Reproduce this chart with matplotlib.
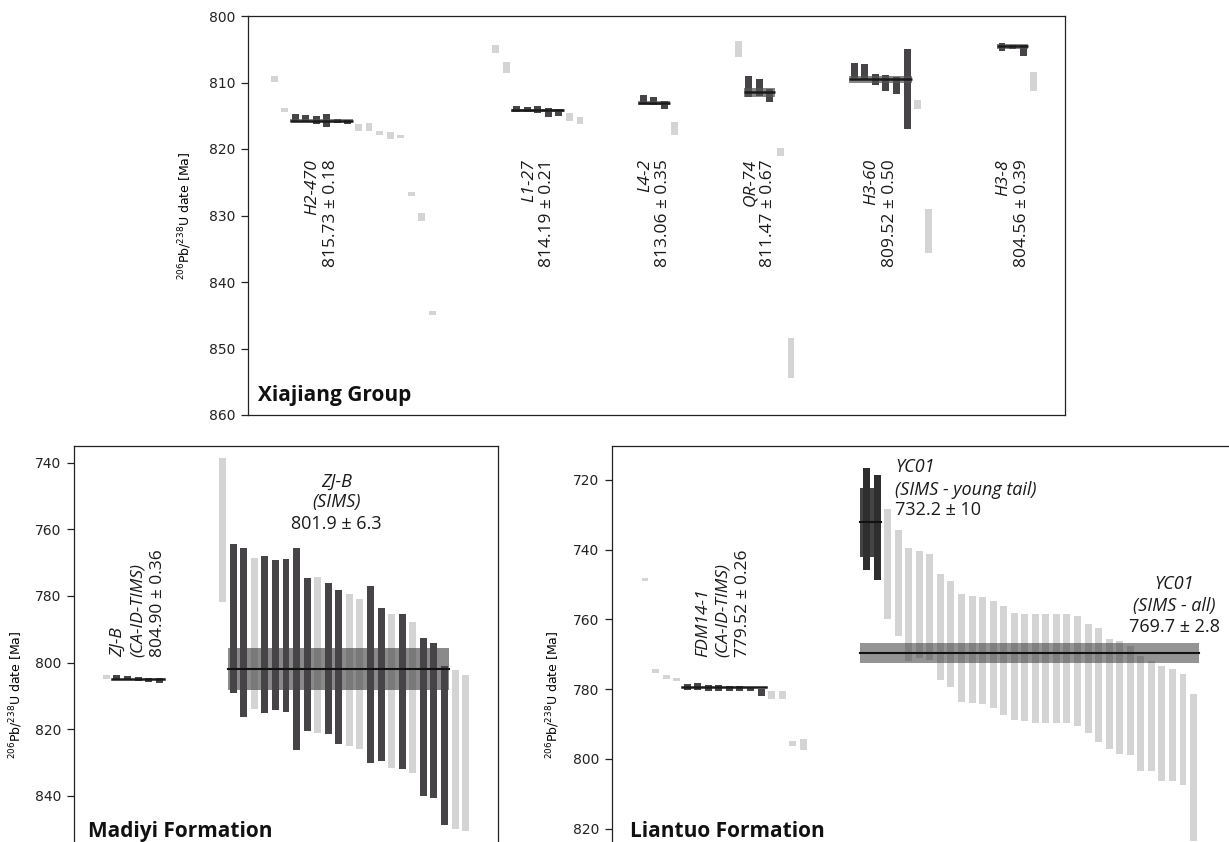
import matplotlib
matplotlib.use('Agg')
import matplotlib.pyplot as plt
from matplotlib.transforms import offset_copy

# ---------------- data ----------------
# Top panel: Xiajiang Group (CA-ID-TIMS single-grain dates, Ma)
top_names = ['H2-470', 'L1-27', 'L4-2', 'QR-74', 'H3-60', 'H3-8']
top_means = [815.73, 814.19, 813.06, 811.47, 809.52, 804.56]
top_errs = [0.18, 0.21, 0.35, 0.67, 0.50, 0.39]

h2_470_lo = [809.0, 813.9, 814.7, 814.9, 815.0, 814.7, 815.5, 815.6, 816.3, 816.1, 817.3, 817.5, 817.9, 826.5, 829.6, 844.4]
h2_470_hi = [810.0, 814.4, 815.8, 815.9, 816.2, 816.7, 816.1, 816.2, 817.3, 817.3, 817.9, 818.5, 818.3, 827.1, 830.8, 845.0]
h2_470_used = [0, 0, 1, 1, 1, 1, 1, 1, 0, 0, 0, 0, 0, 0, 0, 0]

l1_27_lo = [804.4, 806.9, 813.5, 813.7, 813.5, 813.8, 814.0, 814.6, 815.2]
l1_27_hi = [805.6, 808.6, 814.4, 814.4, 814.6, 815.2, 815.0, 815.8, 816.2]
l1_27_used = [0, 0, 1, 1, 1, 1, 1, 0, 0]

l4_2_lo = [811.9, 812.2, 812.8, 815.9]
l4_2_hi = [813.1, 813.4, 814.0, 817.9]
l4_2_used = [1, 1, 1, 0]

qr_74_lo = [803.8, 809.0, 809.5, 811.0, 819.8, 848.4]
qr_74_hi = [806.2, 812.2, 812.0, 812.9, 821.1, 854.4]
qr_74_used = [0, 1, 1, 1, 0, 0]

h3_60_lo = [807.1, 807.2, 808.7, 808.9, 809.2, 805.0, 812.6, 829.0]
h3_60_hi = [809.3, 809.6, 810.4, 811.3, 811.7, 817.0, 814.0, 835.6]
h3_60_used = [1, 1, 1, 1, 1, 1, 0, 0]

h3_8_lo = [804.0, 804.3, 804.3, 808.4]
h3_8_hi = [805.2, 805.0, 806.0, 811.3]
h3_8_used = [1, 1, 1, 0]

# Bottom-left: Madiyi Formation
zjb_tims_lo = [803.6, 803.8, 804.0, 804.3, 804.5, 804.5]
zjb_tims_hi = [804.9, 805.3, 805.1, 805.5, 805.9, 806.1]
zjb_tims_used = [0, 1, 1, 1, 1, 1]
zjb_tims_mean, zjb_tims_err = 804.90, 0.36

zjb_sims_lo = [738.5, 764.3, 765.5, 768.7, 768.0, 769.3, 768.9, 765.5, 774.6, 774.4, 776.1, 778.1,
               779.5, 780.9, 777.0, 783.7, 785.3, 785.4, 787.7, 792.5, 794.1, 801.1, 802.1, 803.8]
zjb_sims_hi = [781.8, 809.1, 816.3, 813.9, 815.2, 814.2, 815.0, 826.4, 820.7, 821.3, 821.5, 824.5,
               825.1, 826.1, 830.3, 829.7, 831.7, 831.9, 833.3, 840.1, 840.6, 848.8, 850.1, 850.5]
zjb_sims_used = [0, 1, 1, 0, 1, 1, 1, 1, 1, 0, 1, 1, 0, 0, 1, 1, 0, 1, 0, 1, 1, 1, 0, 0]
zjb_sims_mean, zjb_sims_err = 801.9, 6.3

# Bottom-right: Liantuo Formation
fdm_lo = [748.0, 774.2, 775.9, 776.7, 778.5, 778.2, 778.7, 778.8, 779.2, 779.2, 779.4, 779.9, 780.6, 780.6, 795.0, 794.4]
fdm_hi = [749.1, 775.4, 777.1, 777.7, 780.2, 780.2, 780.4, 780.6, 780.6, 780.6, 780.4, 782.1, 782.8, 782.8, 796.2, 797.5]
fdm_used = [0, 0, 0, 0, 1, 1, 1, 1, 1, 1, 1, 1, 0, 0, 0, 0]
fdm_mean, fdm_err = 779.52, 0.26

yc01_lo = [716.5, 718.6, 728.3, 734.4, 739.5, 740.5, 741.1, 747.0, 749.1, 752.8, 753.2, 753.6, 754.7, 756.1,
           758.2, 758.4, 758.5, 758.5, 758.5, 758.5, 759.0, 761.4, 762.5, 765.5, 766.2, 767.6, 770.6, 771.8,
           773.5, 774.2, 775.6, 781.4]
yc01_hi = [745.7, 748.8, 759.8, 764.9, 771.8, 771.0, 771.6, 777.3, 779.4, 783.7, 784.1, 784.4, 785.4, 787.3,
           788.8, 789.0, 789.6, 789.6, 789.6, 789.6, 790.6, 792.7, 795.2, 797.2, 798.6, 799.0, 803.4, 803.4,
           806.3, 806.3, 807.5, 823.5]
yc01_young_used = [1, 1] + [0] * 30
yc01_young_mean, yc01_young_err = 732.2, 10.0
yc01_all_mean, yc01_all_err = 769.7, 2.8

# ---------------- style / layout ----------------
W, H = 1229, 842
fig = plt.figure(figsize=(W / 100, H / 100), dpi=100)
DARK = '#474447'
DARK2 = '#2e2e2e'
GREY = '#d4d4d4'
ANN = ['Open Sans', 'DejaVu Sans']
BW = 0.66
YLAB = r'$^{206}$Pb/$^{238}$U date [Ma]'
FS = 12.5
FSB = 15


def px_axes(l, t, r, b):
    return fig.add_axes([l / W, 1 - b / H, (r - l) / W, (b - t) / H])


def style_axes(ax):
    ax.set_xticks([])
    for s in ax.spines.values():
        s.set_linewidth(0.9)
        s.set_color('#222222')
    ax.tick_params(axis='y', direction='out', length=5, width=0.9, labelsize=10, colors='#222222', pad=4)


def draw_bars(ax, start, lo, hi, used, dark=DARK, zd=3, zg=1):
    xs = [start + i for i in range(len(lo))]
    for x, a, b, u in zip(xs, lo, hi, used):
        ax.bar(x, b - a, bottom=a, width=BW, color=dark if u else GREY,
               zorder=zd if u else zg, linewidth=0)
    return xs


def rot_lines(ax, x, y, lines, styles, spacing, va):
    n = len(lines)
    for k, (txt, st) in enumerate(zip(lines, styles)):
        dx = (k - (n - 1) / 2) * spacing
        tr = offset_copy(ax.transData, fig=fig, x=dx, y=0, units='points')
        ax.text(x, y, txt, transform=tr, rotation=90, ha='center', va=va,
                fontsize=FS, style=st, family=ANN, color='#1a1a1a', zorder=6)


# ---------------- top panel ----------------
ax = px_axes(248, 16, 1065, 415)
style_axes(ax)
ax.set_xlim(-2.47, 74.97)
ax.set_ylim(860, 800)
ax.set_yticks(range(800, 861, 10))
groups = [(h2_470_lo, h2_470_hi, h2_470_used), (l1_27_lo, l1_27_hi, l1_27_used),
          (l4_2_lo, l4_2_hi, l4_2_used), (qr_74_lo, qr_74_hi, qr_74_used),
          (h3_60_lo, h3_60_hi, h3_60_used), (h3_8_lo, h3_8_hi, h3_8_used)]
gaps = [0, 5, 5, 5, 5, 6]
pos = 0
for (lo, hi, used), gap, name, m, e in zip(groups, gaps, top_names, top_means, top_errs):
    pos += gap
    xs = draw_bars(ax, pos, lo, hi, used)
    ux = [x for x, u in zip(xs, used) if u]
    x0, x1 = min(ux) - 0.5, max(ux) + 0.5
    ax.fill_between([x0, x1], m - e, m + e, color='#555555', alpha=0.7, zorder=4, linewidth=0)
    ax.plot([x0, x1], [m, m], color='#1a1a1a', lw=1.8, zorder=5, solid_capstyle='butt')
    xc = (min(ux) + max(ux)) / 2
    rot_lines(ax, xc, 821.5, [name, f'{m:.2f} ± {e:.2f}'], ['italic', 'normal'], 13.0, 'top')
    pos += len(lo)
ax.text(0.012, 0.022, 'Xiajiang Group', transform=ax.transAxes, fontsize=FSB,
        fontweight='bold', family=ANN, ha='left', va='bottom', color='#111111')
ax.set_ylabel(YLAB, fontsize=9)
ax.yaxis.set_label_coords(-0.066, 0.5)

# ---------------- bottom-left panel ----------------
axl = px_axes(74, 446, 498, 944)
style_axes(axl)
axl.set_xlim(-3.06, 37.06)
axl.set_ylim(884.5, 735.0)
axl.set_yticks(range(740, 841, 20))
xs = draw_bars(axl, 0, zjb_tims_lo, zjb_tims_hi, zjb_tims_used)
ux = [x for x, u in zip(xs, zjb_tims_used) if u]
axl.plot([min(ux) - 0.5, max(ux) + 0.5], [zjb_tims_mean] * 2, color='#1a1a1a', lw=1.8, zorder=5)
rot_lines(axl, (min(ux) + max(ux)) / 2, 798.4, ['ZJ-B', '(CA-ID-TIMS)', f'{zjb_tims_mean:.2f} ± {zjb_tims_err:.2f}'],
          ['italic', 'italic', 'normal'], 14.5, 'bottom')
start = len(zjb_tims_lo) + 5
xs = draw_bars(axl, start, zjb_sims_lo, zjb_sims_hi, zjb_sims_used)
ux = [x for x, u in zip(xs, zjb_sims_used) if u]
x0, x1 = min(ux) - 0.45, max(ux) + 0.45
axl.fill_between([x0, x1], zjb_sims_mean - zjb_sims_err, zjb_sims_mean + zjb_sims_err,
                 color='#3c3c3c', alpha=0.6, zorder=2, linewidth=0)
axl.plot([x0, x1], [zjb_sims_mean] * 2, color='#111111', lw=1.5, zorder=5)
xc = 21.8
for txt, yy, st in zip(['ZJ-B', '(SIMS)', f'{zjb_sims_mean:.1f} ± {zjb_sims_err:.1f}'],
                       [745.6, 751.9, 758.3], ['italic', 'italic', 'normal']):
    axl.text(xc, yy, txt, ha='center', va='center', fontsize=FS + 0.5, style=st, family=ANN, color='#1a1a1a')
axl.text(0.033, 853.8, 'Madiyi Formation', transform=axl.get_yaxis_transform(), fontsize=FSB,
         fontweight='bold', family=ANN, ha='left', va='bottom', color='#111111')
axl.set_ylabel(YLAB, fontsize=9)
axl.yaxis.set_label_coords(-0.115, 0.5)
axl.spines['bottom'].set_visible(False)

# ---------------- bottom-right panel ----------------
axr = px_axes(612, 446, 1250, 944)
style_axes(axr)
axr.set_xlim(-3.13, 57.35)
axr.set_ylim(853.1, 710.26)
axr.set_yticks(range(720, 821, 20))
xs = draw_bars(axr, 0, fdm_lo, fdm_hi, fdm_used)
ux = [x for x, u in zip(xs, fdm_used) if u]
axr.plot([min(ux) - 0.5, max(ux) + 0.5], [fdm_mean] * 2, color='#1a1a1a', lw=1.8, zorder=5)
rot_lines(axr, (min(ux) + max(ux)) / 2 - 0.1, 770.8, ['FDM14-1', '(CA-ID-TIMS)', f'{fdm_mean:.2f} ± {fdm_err:.2f}'],
          ['italic', 'italic', 'normal'], 14.5, 'bottom')
start = len(fdm_lo) + 5
xs = draw_bars(axr, start, yc01_lo, yc01_hi, yc01_young_used, dark=DARK2)
ux = [x for x, u in zip(xs, yc01_young_used) if u]
axr.fill_between([min(ux) - 0.6, max(ux) + 0.4], yc01_young_mean - yc01_young_err,
                 yc01_young_mean + yc01_young_err, color='#3a3a3a', alpha=0.95, zorder=2, linewidth=0)
axr.plot([min(ux) - 0.6, max(ux) + 0.4], [yc01_young_mean] * 2, color='#111111', lw=1.5, zorder=5)
ax0, ax1 = min(xs) - 0.6, max(xs) + 0.5
axr.fill_between([ax0, ax1], yc01_all_mean - yc01_all_err, yc01_all_mean + yc01_all_err,
                 color='#3c3c3c', alpha=0.55, zorder=2.5, linewidth=0)
axr.plot([ax0, ax1], [yc01_all_mean] * 2, color='#111111', lw=1.5, zorder=5)
for txt, yy, st in zip(['YC01', '(SIMS - young tail)', f'{yc01_young_mean:.1f} ± {yc01_young_err:.0f}'],
                       [716.4, 722.9, 728.6], ['italic', 'italic', 'normal']):
    axr.text(23.7, yy, txt, ha='left', va='center', fontsize=FS + 0.5, style=st, family=ANN, color='#1a1a1a')
for txt, yy, st in zip(['YC01', '(SIMS - all)', f'{yc01_all_mean:.1f} ± {yc01_all_err:.1f}'],
                       [749.9, 756.1, 762.2], ['italic', 'italic', 'normal']):
    axr.text(50.2, yy, txt, ha='center', va='center', fontsize=FS + 0.5, style=st, family=ANN, color='#1a1a1a')
axr.text(0.028, 823.9, 'Liantuo Formation', transform=axr.get_yaxis_transform(), fontsize=FSB,
         fontweight='bold', family=ANN, ha='left', va='bottom', color='#111111')
axr.set_ylabel(YLAB, fontsize=9)
axr.yaxis.set_label_coords(-0.079, 0.5)
axr.spines['bottom'].set_visible(False)

fig.savefig('out.png', dpi=100)
